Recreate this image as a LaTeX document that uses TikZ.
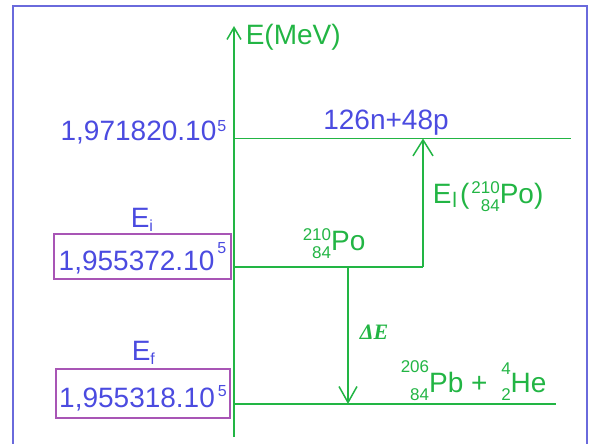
\documentclass[tikz,border=0pt]{standalone}
\usepackage{fontspec}
\setmainfont{Liberation Sans}
\newfontfamily\deltafont{Liberation Serif}
\usetikzlibrary{arrows.meta,positioning,calc}
\definecolor{lvlgreen}{HTML}{22B544}
\definecolor{txtblue}{HTML}{4B4BE0}
\definecolor{frameblue}{HTML}{6A6ADC}
\definecolor{boxpurple}{HTML}{A855B5}

\newcommand{\lift}[2][10pt]{\raisebox{#1}{\fontsize{16}{16}\selectfont #2}}
\newcommand{\iso}[4][18pt]{\raisebox{-8pt}{\fontsize{17}{#1}\selectfont\begin{tabular}[b]{@{}r@{}}#2\\#3\end{tabular}}#4}

\begin{document}
\begin{tikzpicture}[x=1pt, y=-1pt, line width=1.5pt,
    big/.style={font=\fontsize{28}{32}\selectfont, inner sep=0pt},
    lvl/.style={draw=lvlgreen},
    valbox/.style={big, draw=boxpurple, line width=1.2pt, text=txtblue, text height=33pt, text depth=5pt}]
  \clip (0,0) rectangle (595,444);
  \draw[frameblue, line width=2pt] (13,6) rectangle (587,460);

  % axis and levels
  \coordinate (O) at (234,437);
  \coordinate (top) at (234,26);
  \coordinate (c0) at (234,138.5);
  \coordinate (c1) at (571,138.5);
  \coordinate (exc) at (423,138.5);
  \coordinate (p0) at (234,267);
  \coordinate (p1) at (423,267);
  \coordinate (dn) at (348,267);
  \coordinate (f0) at (234,404);
  \coordinate (f1) at (556,404);
  \coordinate (dnf) at (348,404);

  \draw[lvl, -{Straight Barb[length=12pt, width=14pt]}] (O) -- (top);
  \draw[lvl] (c0) -- (c1);
  \draw[lvl] (p0) -- (p1);
  \draw[lvl] (f0) -- (f1);
  \draw[lvl, -{Straight Barb[length=16pt, width=20pt]}] (p1) -- (exc);
  \draw[lvl, -{Straight Barb[length=16pt, width=18pt]}] (dn) -- (dnf);

  \node[big, text=lvlgreen, anchor=base west] (mev) at (245,45) {E(MeV)};

  % left values
  \node[big, text=txtblue, anchor=base east] (vtop) at (227,140) {1,971820.10\kern1pt\lift[9pt]{5}};
  \node[big, text=txtblue, anchor=base west] (ei) at (130,227) {E\lift[-4pt]{i}};
  \node[valbox, minimum width=177pt, minimum height=45pt] (vi) at (142.5,256.5) {1,955372.10\kern3pt\lift[17pt]{5}};
  \node[big, text=txtblue, anchor=base west] (ef) at (131,360) {E\lift[-4pt]{f}};
  \node[valbox, minimum width=174pt, minimum height=49pt] (vf) at (143,393.5) {1,955318.10\kern3pt\lift[11pt]{5}};

  % right labels
  \node[big, text=txtblue, anchor=base] (nucl) at (386,129) {126n+48p};
  \node[big, text=lvlgreen, anchor=base west] (po) at (302,250) {\iso{210}{84}{Po}};
  \node[big, text=lvlgreen, anchor=base west] (el) at (432,203) {E\kern1pt\raisebox{-4pt}{\fontsize{21}{21}\selectfont l}\kern3pt(\kern2pt\iso{210}{84}{Po})};
  \node[text=lvlgreen, font=\deltafont\fontsize{22}{24}\selectfont\bfseries\itshape, inner sep=0pt, anchor=base west] (de) at (359,339) {ΔE};
  \node[big, text=lvlgreen, anchor=base west] (prod) at (400,392) {\iso[28pt]{206}{84}{Pb} + \hspace{6pt}\iso[26pt]{4}{2}{He}};
\end{tikzpicture}
\end{document}
